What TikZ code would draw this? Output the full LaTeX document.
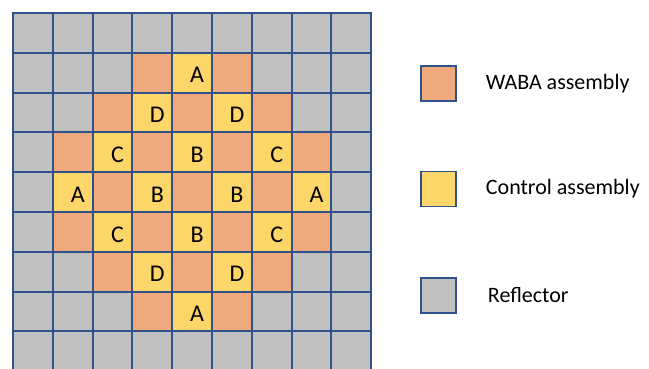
\documentclass[tikz,border=0pt]{standalone}
\usepackage{fontspec}
\setmainfont{Carlito}
\usetikzlibrary{positioning}

\definecolor{wabaorange}{RGB}{240,169,125}
\definecolor{ctrlyellow}{RGB}{253,214,106}
\definecolor{reflgray}{RGB}{192,192,192}
\definecolor{gridblue}{RGB}{47,82,143}

\begin{document}
\begin{tikzpicture}[
    x=1pt, y=-1pt,
    cell/.style={draw=gridblue, line width=2pt, minimum size=39.8pt, inner sep=0pt},
    r/.style={cell, fill=reflgray},
    w/.style={cell, fill=wabaorange},
    c/.style={cell, fill=ctrlyellow},
    letter/.style={inner sep=0pt, xshift=5pt, yshift=-2.5pt, font=\fontsize{24}{28}\selectfont},
    key/.style={draw=gridblue, line width=1.5pt, minimum size=35pt, inner sep=0pt},
    keytext/.style={inner sep=0pt, anchor=west, font=\fontsize{22}{26}\selectfont},
]
\useasboundingbox (0,0) rectangle (649,368);
\clip (0,0) rectangle (649,368);

% Core map (9 x 9)
\foreach \row [count=\i] in {
    {r/{},r/{},r/{},r/{},r/{},r/{},r/{},r/{},r/{}},
    {r/{},r/{},r/{},w/{},c/A,w/{},r/{},r/{},r/{}},
    {r/{},r/{},w/{},c/D,w/{},c/D,w/{},r/{},r/{}},
    {r/{},w/{},c/C,w/{},c/B,w/{},c/C,w/{},r/{}},
    {r/{},c/A,w/{},c/B,w/{},c/B,w/{},c/A,r/{}},
    {r/{},w/{},c/C,w/{},c/B,w/{},c/C,w/{},r/{}},
    {r/{},r/{},w/{},c/D,w/{},c/D,w/{},r/{},r/{}},
    {r/{},r/{},r/{},w/{},c/A,w/{},r/{},r/{},r/{}},
    {r/{},r/{},r/{},r/{},r/{},r/{},r/{},r/{},r/{}}}
  \foreach \kind/\lbl [count=\j] in \row
    \node[\kind, label={[letter]center:\lbl}] (cell-\i-\j)
      at ({32.9+39.8*(\j-1)}, {32.9+39.8*(\i-1)}) {};

% Legend
\node[key, fill=wabaorange] (keywaba) at (438.5,83.5) {};
\node[key, fill=ctrlyellow] (keyctrl) at (438.5,189) {};
\node[key, fill=reflgray] (keyrefl) at (438.5,295.5) {};

\node[keytext, right=29pt of keywaba] (txtwaba) {WABA assembly};
\node[keytext, right=29pt of keyctrl] (txtctrl) {Control assembly};
\node[keytext, right=31pt of keyrefl] (txtrefl) {Reflector};

\end{tikzpicture}
\end{document}
